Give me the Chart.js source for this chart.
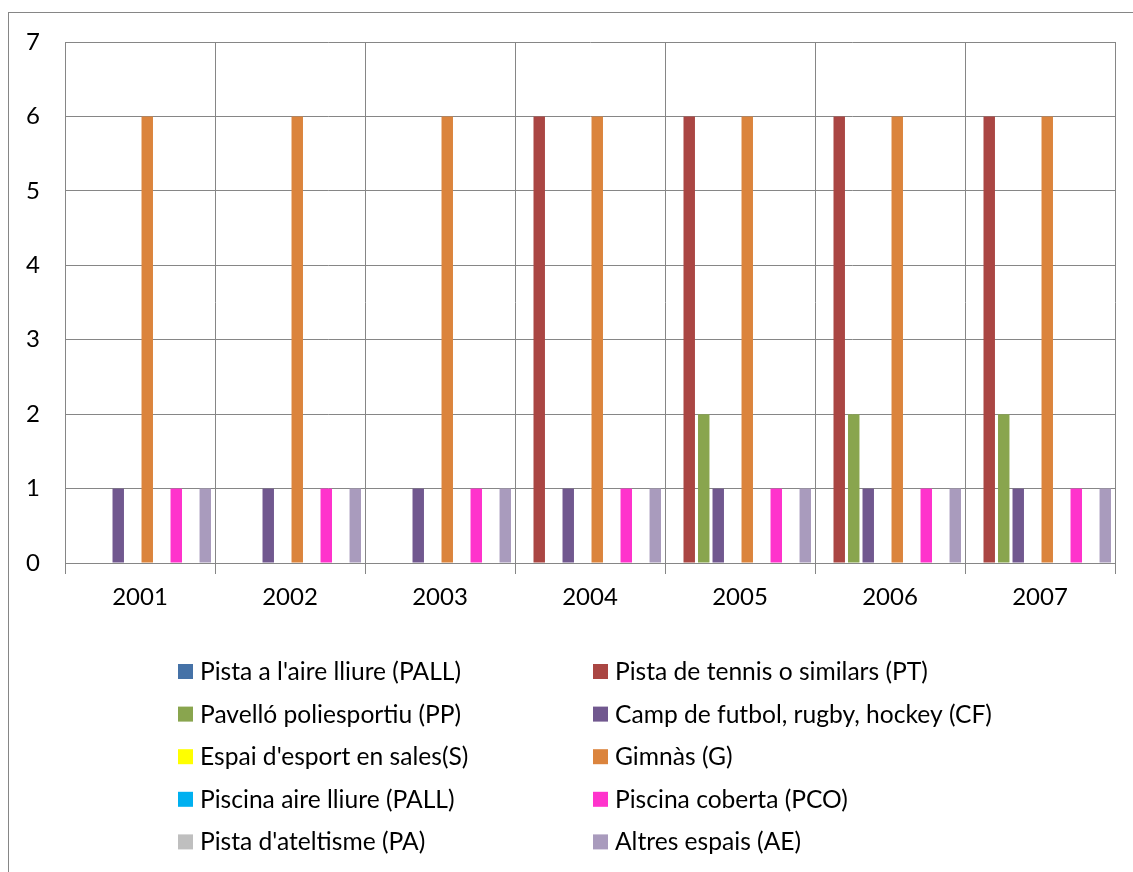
<!DOCTYPE html>
<html>
<head>
<meta charset="utf-8">
<script src="https://cdn.jsdelivr.net/npm/chart.js@4.4.1/dist/chart.umd.min.js"></script>
<style>
  html,body{margin:0;padding:0;background:#fff;}
  #wrap{position:relative;width:1133px;height:872px;}
</style>
</head>
<body>
<div id="wrap"><canvas id="c" width="1133" height="872"></canvas></div>
<script>
const years = ['2001','2002','2003','2004','2005','2006','2007'];
const yTicks = [0,1,2,3,4,5,6,7];

// series (valors per any)
const pall = [0,0,0,0,0,0,0];
const pt   = [0,0,0,6,6,6,6];
const pp   = [0,0,0,0,2,2,2];
const cf   = [1,1,1,1,1,1,1];
const s    = [0,0,0,0,0,0,0];
const g    = [6,6,6,6,6,6,6];
const pail = [0,0,0,0,0,0,0];
const pco  = [1,1,1,1,1,1,1];
const pa   = [0,0,0,0,0,0,0];
const ae   = [1,1,1,1,1,1,1];

const labels = [
  "Pista a l'aire lliure (PALL)",
  "Pista de tennis o similars (PT)",
  "Pavelló poliesportiu (PP)",
  "Camp de futbol, rugby, hockey (CF)",
  "Espai d'esport en sales(S)",
  "Gimnàs (G)",
  "Piscina aire lliure (PALL)",
  "Piscina coberta (PCO)",
  "Pista d'ateltisme (PA)",
  "Altres espais (AE)"
];
const colors = ['#4572A7','#AA4643','#89A54E','#71588F','#FFFF00','#DB843D','#00B0F0','#FF33CC','#BFBFBF','#A99BBD'];
const series = [pall, pt, pp, cf, s, g, pail, pco, pa, ae];

const FONT = 'Lato, Carlito, "Noto Sans", sans-serif';
const GRID = '#868686';

// marc exterior
const frame = {
  id: 'frame',
  beforeDraw(chart){
    const c = chart.ctx;
    c.save();
    c.strokeStyle = GRID;
    c.lineWidth = 1;
    c.strokeRect(8.5, 12.5, 1300, 1000);
    c.restore();
  }
};

// llegenda en dues columnes
const legend2 = {
  id: 'legend2',
  afterDraw(chart){
    const c = chart.ctx;
    const ds = chart.data.datasets;
    c.save();
    c.font = '24.6px ' + FONT;
    c.textBaseline = 'middle';
    ds.forEach((d, i) => {
      const col = i % 2, row = Math.floor(i / 2);
      const bx = col ? 593 : 178;
      const cy = 672 + row * 42.6;
      c.fillStyle = d.backgroundColor;
      c.fillRect(bx, cy - 8, 15, 15);
      c.fillStyle = '#000';
      c.fillText(d.label, bx + 22, cy);
    });
    c.restore();
  }
};

new Chart(document.getElementById('c'), {
  type: 'bar',
  data: {
    labels: years,
    datasets: series.map((v, i) => ({
      label: labels[i],
      data: v,
      backgroundColor: colors[i],
      borderWidth: 0,
      categoryPercentage: 0.967,
      barPercentage: 0.79
    }))
  },
  options: {
    responsive: false,
    animation: false,
    layout: { padding: { top: 42, right: 18, bottom: 249, left: 0 } },
    plugins: { legend: { display: false }, tooltip: { enabled: false } },
    scales: {
      x: {
        grid: { color: GRID, lineWidth: 1, offset: true, drawTicks: true, tickLength: 11 },
        border: { color: GRID },
        ticks: { color: '#000', font: { size: 24, family: FONT }, padding: 9, maxRotation: 0 },
        afterFit(scale){ scale.height = 60; }
      },
      y: {
        min: 0, max: 7,
        afterBuildTicks(scale){ scale.ticks = yTicks.map(v => ({ value: v })); },
        grid: { color: GRID, lineWidth: 1, drawTicks: false },
        border: { color: GRID },
        ticks: { color: '#000', font: { size: 24, family: FONT }, padding: 25 },
        afterFit(scale){ scale.width = 65; }
      }
    }
  },
  plugins: [frame, legend2]
});
</script>
</body>
</html>
